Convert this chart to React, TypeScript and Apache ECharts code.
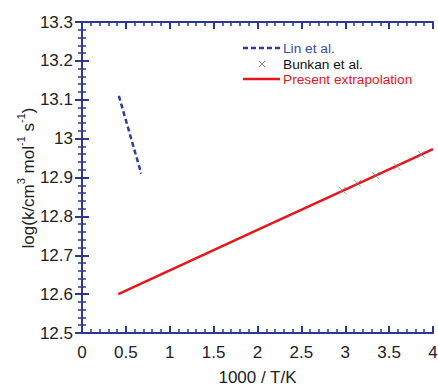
import React, { useEffect, useRef } from "react";
import * as echarts from "echarts";

const linX = [0.42, 0.675];
const linY = [13.11, 12.91];
const bunkanX = [2.966, 3.141, 3.347, 3.59, 3.867];
const bunkanY = [12.867, 12.885, 12.905, 12.928, 12.96];
const presentX = [0.414, 1.0, 2.0, 3.0, 4.0];
const presentY = [12.6, 12.661, 12.765, 12.869, 12.973];
const seriesNames = ["Lin et al.", "Bunkan et al.", "Present extrapolation"];

const AXIS = "#2b3896";
const BLUE = "#2e3c9c";
const RED = "#e8161b";
const GRAY = "#808080";
const FONT = "Liberation Sans, Arial, sans-serif";

const pair = (xs: number[], ys: number[]) => xs.map((x, i) => [x, ys[i]]);

export default function App() {
  const ref = useRef<HTMLDivElement>(null);
  useEffect(() => {
    if (!ref.current) return;
    const chart = echarts.init(ref.current, undefined, { renderer: "svg" });
    const axisCommon = {
      axisLine: { show: true, lineStyle: { color: AXIS, width: 2 } },
      axisTick: { show: true, inside: true, length: 7, lineStyle: { color: AXIS, width: 2 } },
      minorTick: { show: true, splitNumber: 5, length: 4, lineStyle: { color: AXIS, width: 1.5 } },
      splitLine: { show: false },
    };
    const xBase = { type: "value", min: 0, max: 4, interval: 0.5, ...axisCommon };
    const yBase = { type: "value", min: 12.5, max: 13.3, interval: 0.1, ...axisCommon };

    const lx = 243, lw = 37, tx = 283;
    const rows = [48, 64, 79];
    const legendTextColors = ["#3a4aae", "#111", RED];
    const legendGraphics: any[] = [
      { type: "line", shape: { x1: lx, y1: rows[0], x2: lx + lw, y2: rows[0] }, style: { stroke: BLUE, lineWidth: 2.5, lineDash: [5, 3] } },
      { type: "line", shape: { x1: 259, y1: rows[1] - 3, x2: 265, y2: rows[1] + 3 }, style: { stroke: GRAY, lineWidth: 1 } },
      { type: "line", shape: { x1: 259, y1: rows[1] + 3, x2: 265, y2: rows[1] - 3 }, style: { stroke: GRAY, lineWidth: 1 } },
      { type: "line", shape: { x1: lx, y1: rows[2], x2: lx + lw, y2: rows[2] }, style: { stroke: RED, lineWidth: 2.5 } },
      ...seriesNames.map((n, i) => ({
        type: "text",
        x: tx,
        y: rows[i],
        style: { text: n, fill: legendTextColors[i], fontSize: 13.7, fontFamily: FONT, verticalAlign: "middle", align: "left" },
      })),
    ];

    chart.setOption({
      animation: false,
      backgroundColor: "#fff",
      grid: { left: 82, top: 22, right: 5, bottom: 54, outerBoundsMode: "none", containLabel: false },
      xAxis: [
        {
          ...xBase,
          position: "bottom",
          axisLabel: { color: "#222", fontSize: 17, fontFamily: FONT, margin: 11 },
          name: "1000 / T/K",
          nameLocation: "middle",
          nameGap: 36,
          nameTextStyle: { color: "#222", fontSize: 17, fontFamily: FONT },
        },
        { ...xBase, position: "top", axisLabel: { show: false } },
      ],
      yAxis: [
        {
          ...yBase,
          position: "left",
          axisLabel: { color: "#222", fontSize: 17, fontFamily: FONT, margin: 9 },
        },
        { ...yBase, position: "right", axisLabel: { show: false } },
      ],
      graphic: [
        {
          type: "text",
          x: 26,
          y: 178,
          rotation: Math.PI / 2,
          style: {
            text: "{a|log(k/cm}{s|3}{a| mol}{s|-1}{a| s}{s|-1}{a|)}",
            align: "center",
            verticalAlign: "middle",
            fill: "#222",
            rich: {
              a: { fontSize: 17, fontFamily: FONT, fill: "#222", lineHeight: 22, verticalAlign: "bottom" },
              s: { fontSize: 11, fontFamily: FONT, fill: "#222", lineHeight: 22, verticalAlign: "top" },
            },
          },
        },
        ...legendGraphics,
      ],
      series: [
        {
          name: seriesNames[0],
          type: "line",
          data: pair(linX, linY),
          symbol: "none",
          lineStyle: { color: BLUE, width: 2.5, type: [5, 3] },
          itemStyle: { color: BLUE },
        },
        {
          name: seriesNames[1],
          type: "scatter",
          data: pair(bunkanX, bunkanY),
          symbol: "path://M0,0L10,10M10,0L0,10",
          symbolSize: 7,
          itemStyle: { color: "none", borderColor: GRAY, borderWidth: 1 },
          z: 3,
        },
        {
          name: seriesNames[2],
          type: "line",
          data: pair(presentX, presentY),
          symbol: "none",
          lineStyle: { color: RED, width: 2.5 },
          itemStyle: { color: RED },
          z: 2,
        },
      ],
    });
    return () => chart.dispose();
  }, []);
  return <div ref={ref} style={{ width: 438, height: 387, position: "absolute", left: 0, top: 0 }} />;
}
